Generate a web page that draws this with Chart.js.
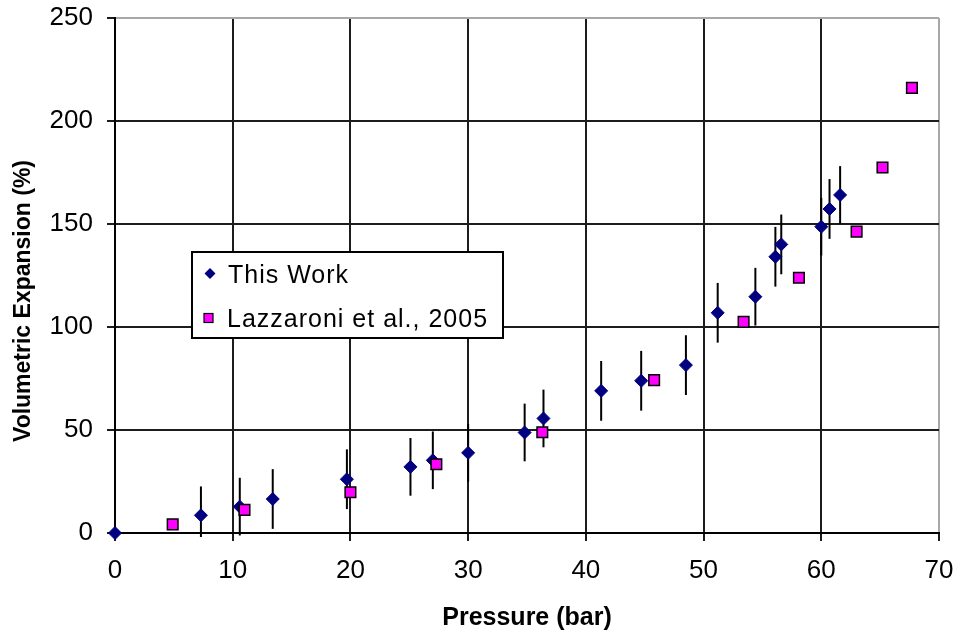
<!DOCTYPE html>
<html>
<head>
<meta charset="utf-8">
<script src="https://cdn.jsdelivr.net/npm/chart.js@4.4.1/dist/chart.umd.min.js"></script>
<style>
  html, body { margin: 0; padding: 0; background: #ffffff; }
  #wrap { width: 959px; height: 634px; position: relative; }
  canvas { display: block; }
</style>
</head>
<body>
<div id="wrap"><canvas id="chart" width="959" height="634"></canvas></div>
<script>
// ---------- data ----------
const xTickValues = [0, 10, 20, 30, 40, 50, 60, 70];
const yTickValues = [0, 50, 100, 150, 200, 250];

const seriesNames = ['This Work', 'Lazzaroni et al., 2005'];
const xAxisTitle = 'Pressure (bar)';
const yAxisTitle = 'Volumetric Expansion (%)';

const thisWorkPressure  = [0, 7.3, 10.6, 13.4, 19.7, 25.1, 27.0, 30.0, 34.8, 36.4, 41.3, 44.7, 48.5, 51.2, 54.4, 56.1, 56.6, 60.0, 60.7, 61.6];
const thisWorkExpansion = [0, 8.6, 12.8, 16.5, 26.1, 32.1, 35.3, 38.9, 48.8, 55.6, 69.0, 73.9, 81.5, 106.9, 114.7, 134.1, 140.1, 148.7, 157.3, 164.1];
const thisWorkError     = [0, 14, 14, 14.5, 14.5, 14, 14, 14, 14, 14, 14.5, 14.5, 14.5, 14.5, 14, 14.5, 14.5, 14, 14.5, 14];

const lazzaroniPressure  = [4.9, 11.0, 20.0, 27.3, 36.3, 45.8, 53.4, 58.1, 63.0, 65.2, 67.7];
const lazzaroniExpansion = [4.2, 11.2, 19.8, 33.4, 48.9, 74.2, 102.5, 123.9, 146.3, 177.4, 216.1];

// ---------- helpers ----------
const toPoints = (xs, ys) => xs.map((v, i) => ({ x: v, y: ys[i] }));
const FONT = "'Liberation Sans', Arial, Helvetica, sans-serif";

const errorBarPlugin = {
  id: 'errorBars',
  beforeDatasetsDraw(chart) {
    const { ctx, chartArea, scales } = chart;
    const xs = scales.x, ys = scales.y;
    ctx.save();
    ctx.beginPath();
    ctx.rect(chartArea.left, chartArea.top - 2, chartArea.right - chartArea.left, chartArea.bottom - chartArea.top + 6);
    ctx.clip();
    ctx.strokeStyle = '#000000';
    ctx.lineWidth = 2;
    thisWorkPressure.forEach((p, i) => {
      const e = thisWorkError[i];
      if (!e) return;
      const v = thisWorkExpansion[i];
      const px = xs.getPixelForValue(p);
      ctx.beginPath();
      ctx.moveTo(px, ys.getPixelForValue(v + e));
      ctx.lineTo(px, ys.getPixelForValue(v - e));
      ctx.stroke();
    });
    ctx.restore();
  }
};

const yTitlePlugin = {
  id: 'yTitle',
  afterDraw(chart) {
    const ctx = chart.ctx;
    ctx.save();
    ctx.translate(24, 301);
    ctx.rotate(-Math.PI / 2);
    ctx.font = "bold 23px " + FONT;
    ctx.fillStyle = '#000000';
    ctx.textAlign = 'center';
    ctx.textBaseline = 'middle';
    ctx.fillText(yAxisTitle, 0, 0);
    ctx.restore();
  }
};

const boxLegendPlugin = {
  id: 'boxLegend',
  afterDraw(chart) {
    const ctx = chart.ctx;
    const ds = chart.data.datasets;
    const box = { x: 192, y: 252, w: 311, h: 86 };
    ctx.save();
    ctx.fillStyle = '#ffffff';
    ctx.fillRect(box.x, box.y, box.w, box.h);
    ctx.strokeStyle = '#000000';
    ctx.lineWidth = 2;
    ctx.strokeRect(box.x, box.y, box.w, box.h);

    const d0 = ds[0];
    ctx.fillStyle = d0.backgroundColor;
    ctx.beginPath();
    const cx = 210, cy = 273.5, r = 5.5;
    ctx.moveTo(cx - r, cy); ctx.lineTo(cx, cy - r); ctx.lineTo(cx + r, cy); ctx.lineTo(cx, cy + r);
    ctx.closePath();
    ctx.fill();

    const d1 = ds[1];
    ctx.fillStyle = d1.backgroundColor;
    ctx.fillRect(204, 313.5, 9, 9);
    ctx.strokeStyle = d1.borderColor;
    ctx.lineWidth = 1.2;
    ctx.strokeRect(204, 313.5, 9, 9);

    ctx.fillStyle = '#000000';
    ctx.font = "25px " + FONT;
    try { ctx.letterSpacing = '1px'; } catch (e) {}
    ctx.textAlign = 'left';
    ctx.textBaseline = 'alphabetic';
    ctx.fillText(d0.label, 228, 283);
    ctx.fillText(d1.label, 227, 327);
    ctx.restore();
  }
};

const gridColor = (edgeValue) => (c) => (c.tick && c.tick.value === edgeValue) ? '#a8a8a8' : '#1c1c1c';
const zeroPadding = (s) => { s.paddingTop = 0; s.paddingBottom = 0; s.paddingLeft = 0; s.paddingRight = 0; };

new Chart(document.getElementById('chart'), {
  type: 'scatter',
  data: {
    datasets: [
      {
        label: seriesNames[0],
        data: toPoints(thisWorkPressure, thisWorkExpansion),
        pointStyle: 'rectRot',
        pointRadius: 6.5,
        backgroundColor: '#000080',
        borderColor: '#000080',
        borderWidth: 1,
        order: 1,
        clip: false
      },
      {
        label: seriesNames[1],
        data: toPoints(lazzaroniPressure, lazzaroniExpansion),
        pointStyle: 'rect',
        pointRadius: 7.5,
        backgroundColor: '#ff00ff',
        borderColor: '#000000',
        borderWidth: 1.5,
        order: 0,
        clip: false
      }
    ]
  },
  options: {
    responsive: false,
    animation: false,
    devicePixelRatio: 1,
    layout: { padding: { top: 18, right: 20, left: 0, bottom: 0 } },
    plugins: {
      legend: { display: false },
      tooltip: { enabled: false },
      title: { display: false }
    },
    scales: {
      x: {
        type: 'linear',
        min: 0, max: 70,
        afterBuildTicks: (s) => { s.ticks = xTickValues.map(v => ({ value: v })); },
        afterFit: (s) => { s.height = 101; zeroPadding(s); },
        grid: { color: gridColor(70), lineWidth: 2, tickLength: 8, tickColor: '#1c1c1c', tickWidth: 2 },
        border: { display: true, color: '#000000', width: 2 },
        ticks: { color: '#000000', padding: 14, maxRotation: 0, font: { family: FONT, size: 26 } },
        title: { display: true, text: xAxisTitle, color: '#000000', padding: { top: 0, bottom: 1 }, font: { family: FONT, size: 25, weight: 'bold' } }
      },
      y: {
        type: 'linear',
        min: 0, max: 250,
        afterBuildTicks: (s) => { s.ticks = yTickValues.map(v => ({ value: v })); },
        afterFit: (s) => { s.width = 115; zeroPadding(s); },
        grid: { color: gridColor(250), lineWidth: 2, tickLength: 8, tickColor: '#1c1c1c', tickWidth: 2 },
        border: { display: true, color: '#000000', width: 2 },
        ticks: { color: '#000000', padding: 14, font: { family: FONT, size: 26 } },
        title: { display: false }
      }
    }
  },
  plugins: [errorBarPlugin, yTitlePlugin, boxLegendPlugin]
});
</script>
</body>
</html>
